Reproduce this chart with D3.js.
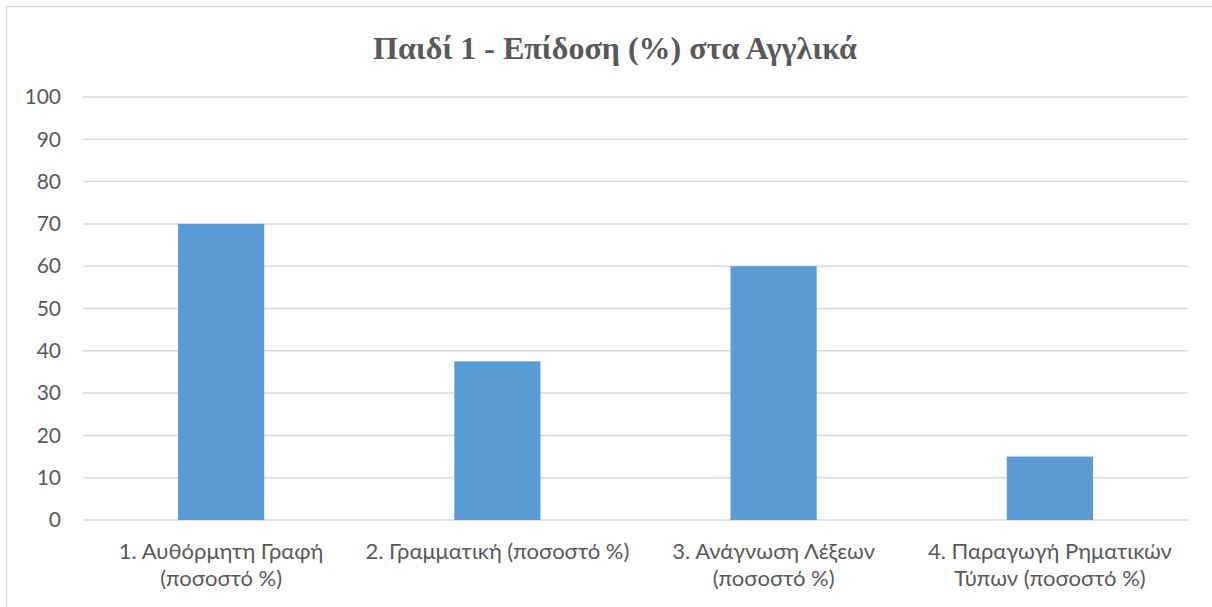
<!DOCTYPE html>
<html>
<head>
<meta charset="utf-8">
<script src="https://cdn.jsdelivr.net/npm/d3@7"></script>
<style>
  html, body { margin: 0; padding: 0; background: #fff; }
  svg { display: block; }
</style>
</head>
<body>
<svg id="chart" width="1212" height="607"></svg>
<script>
// Chart data
const title = "Παιδί 1 - Επίδοση (%) στα Αγγλικά";
const categories = [
  ["1. Αυθόρμητη Γραφή", "(ποσοστό %)"],
  ["2. Γραμματική (ποσοστό %)"],
  ["3. Ανάγνωση Λέξεων", "(ποσοστό %)"],
  ["4. Παραγωγή Ρηματικών", "Τύπων (ποσοστό %)"]
];
const values = [70, 37.5, 60, 15];
const yTicks = [0, 10, 20, 30, 40, 50, 60, 70, 80, 90, 100];

const W = 1212, H = 607;
const margin = { left: 83, right: 24, top: 97, bottom: 87 };
const labelFont = "Lato, 'Open Sans', 'Noto Sans', sans-serif";
const svg = d3.select("#chart");

// Outer chart frame (top and left edges visible)
svg.append("rect")
  .attr("x", 6.5).attr("y", 6.5)
  .attr("width", W + 10).attr("height", H + 10)
  .attr("fill", "none")
  .attr("stroke", "#D9D9D9")
  .attr("stroke-width", 1.5);

const x = d3.scaleBand()
  .domain(categories.map((d, i) => i))
  .range([margin.left, W - margin.right]);

const y = d3.scaleLinear()
  .domain([0, 100])
  .range([H - margin.bottom, margin.top]);

// Gridlines
svg.append("g")
  .selectAll("line")
  .data(yTicks)
  .join("line")
  .attr("x1", margin.left)
  .attr("x2", W - margin.right)
  .attr("y1", d => y(d))
  .attr("y2", d => y(d))
  .attr("stroke", "#D9D9D9")
  .attr("stroke-width", 1.5);

// Y axis labels
const yAxis = d3.axisLeft(y).tickValues(yTicks).tickSize(0).tickPadding(22);
const gy = svg.append("g")
  .attr("transform", `translate(${margin.left},0)`)
  .call(yAxis);
gy.select(".domain").remove();
gy.selectAll("text")
  .attr("font-family", labelFont)
  .attr("font-size", 21)
  .attr("fill", "#595959");

// Bars
const barFrac = 0.312;
svg.append("g")
  .selectAll("rect")
  .data(values)
  .join("rect")
  .attr("x", (d, i) => x(i) + x.bandwidth() * (1 - barFrac) / 2)
  .attr("width", x.bandwidth() * barFrac)
  .attr("y", d => y(d))
  .attr("height", d => y(0) - y(d))
  .attr("fill", "#5B9BD5");

// Category labels
const labels = svg.append("g")
  .attr("font-family", labelFont)
  .attr("font-size", 22)
  .attr("fill", "#595959")
  .attr("text-anchor", "middle");
categories.forEach((lines, i) => {
  const t = labels.append("text")
    .attr("x", x(i) + x.bandwidth() / 2)
    .attr("y", y(0) + 39);
  lines.forEach((ln, j) => {
    t.append("tspan")
      .attr("x", x(i) + x.bandwidth() / 2)
      .attr("dy", j === 0 ? 0 : 27)
      .text(ln);
  });
});

// Title
svg.append("text")
  .attr("x", 615)
  .attr("y", 59)
  .attr("text-anchor", "middle")
  .attr("font-family", "'Liberation Serif', 'Times New Roman', serif")
  .attr("font-weight", "bold")
  .attr("font-size", 32)
  .attr("fill", "#595959")
  .text(title);
</script>
</body>
</html>
